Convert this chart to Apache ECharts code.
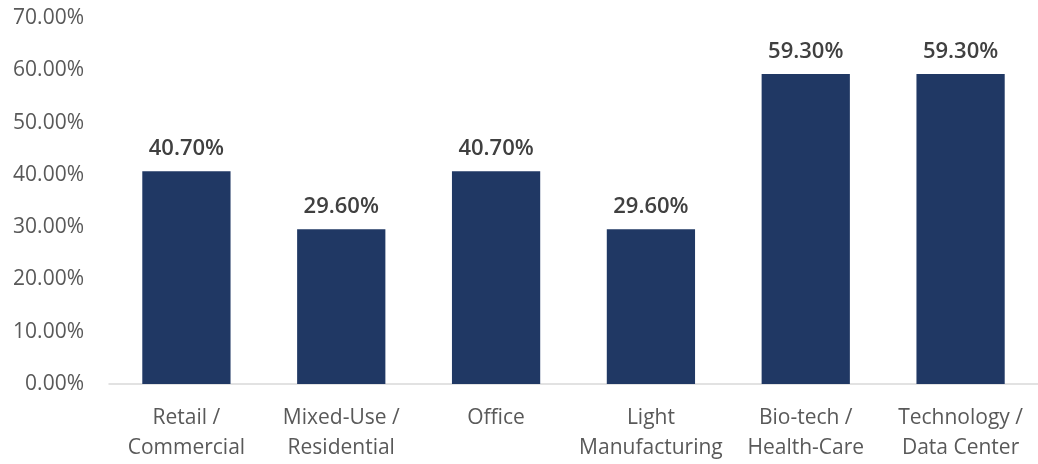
<!DOCTYPE html>
<html><head><meta charset="utf-8">
<script src="https://cdn.jsdelivr.net/npm/echarts@6/dist/echarts.min.js"></script>
<style>html,body{margin:0;padding:0;background:#fff}#c{width:1038px;height:464px}</style>
</head><body><div id="c"></div>
<script>
const categories = ['Retail /\nCommercial','Mixed-Use /\nResidential','Office','Light\nManufacturing','Bio-tech /\nHealth-Care','Technology /\nData Center'];
const values = [40.7, 29.6, 40.7, 29.6, 59.3, 59.3];
const yTicks = {min: 0, max: 70, interval: 10};
const chart = echarts.init(document.getElementById('c'));
const font = '"Open Sans", "Liberation Sans", sans-serif';
chart.setOption({
  animation: false,
  grid: {left: 109, right: -4, top: 18, bottom: 80},
  xAxis: {
    type: 'category', data: categories,
    axisLine: {lineStyle: {color: '#d9d9d9', width: 1.5}},
    axisTick: {show: false},
    axisLabel: {color: '#595959', fontSize: 21, fontFamily: font, lineHeight: 30, margin: 19, interval: 0}
  },
  yAxis: {
    type: 'value', min: yTicks.min, max: yTicks.max, interval: yTicks.interval,
    splitLine: {show: false}, axisLine: {show: false}, axisTick: {show: false},
    axisLabel: {color: '#595959', fontSize: 21, fontFamily: font, margin: 25, formatter: v => v.toFixed(2) + '%'}
  },
  series: [{
    type: 'bar', data: values, barWidth: '57%',
    itemStyle: {color: '#203864'},
    label: {show: true, position: 'top', distance: 11, color: '#404040', fontSize: 22, fontWeight: 600, fontFamily: font, formatter: p => p.value.toFixed(2) + '%'}
  }]
});
</script></body></html>
